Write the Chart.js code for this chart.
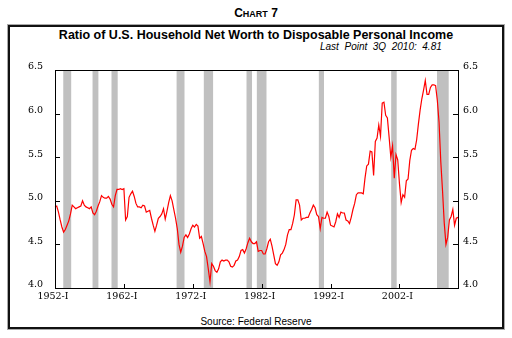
<!DOCTYPE html>
<html>
<head>
<meta charset="utf-8">
<script src="https://cdn.jsdelivr.net/npm/chart.js@4/dist/chart.umd.min.js"></script>
<style>
  html, body { margin: 0; padding: 0; background: #fff; }
  #wrap { position: relative; width: 512px; height: 338px; overflow: hidden; }
  #frame { position: absolute; left: 8px; top: 25px; width: 496px; height: 304px; box-sizing: border-box;
           border: 2px solid #111; box-shadow: 0 0 0 1px #aaa; }
  #charthead { position: absolute; left: 0; width: 512px; top: 6px; text-align: center;
               font-family: "Liberation Sans", Arial, sans-serif; font-weight: bold; font-size: 12px; color: #000; }
  #charthead .sc { font-size: 9px; }
  #title { position: absolute; left: 0; width: 512px; top: 28px; text-align: center;
           font-family: "Liberation Sans", Arial, sans-serif; font-weight: bold; font-size: 12.5px; color: #000; }
  #last { position: absolute; left: 320px; top: 41px; white-space: pre;
          font-family: "Liberation Sans", Arial, sans-serif; font-style: italic; font-size: 10px; color: #000; }
  #source { position: absolute; left: 0; width: 512px; top: 316px; text-align: center;
            font-family: "Liberation Sans", Arial, sans-serif; font-size: 10px; color: #000; }
  #cv { position: absolute; left: 0; top: 0; }
</style>
</head>
<body>
<div id="wrap">
  <div id="frame"></div>
  <div id="charthead">C<span class="sc">HART</span> 7</div>
  <div id="title">Ratio of U.S. Household Net Worth to Disposable Personal Income</div>
  <div id="last">Last  Point  3Q  2010:  4.81</div>
  <div id="source">Source: Federal Reserve</div>
  <canvas id="cv" width="512" height="338"></canvas>
</div>
<script>
// ---- Data (quarterly, 1952-Q1 .. 2010-Q3) ----
const startYear = 1952;
const ratio = [
  // 1952
  4.93, 4.94, 4.87, 4.78,
  // 1953
  4.70, 4.64, 4.67, 4.72,
  // 1954
  4.77, 4.85, 4.95, 4.93,
  // 1955
  4.91, 4.92, 4.93, 4.94,
  // 1956
  5.00, 4.95, 4.93, 4.92,
  // 1957
  4.91, 4.93, 4.86, 4.84,
  // 1958
  4.88, 4.94, 4.99, 5.06,
  // 1959
  5.04, 5.03, 5.03, 5.05,
  // 1960
  5.02, 4.96, 4.93, 5.06,
  // 1961
  5.13, 5.13, 5.14, 5.13,
  // 1962
  5.14, 4.78, 4.82, 5.04,
  // 1963
  5.08, 5.11, 5.05, 4.97,
  // 1964
  4.93, 4.93, 4.92, 4.95,
  // 1965
  4.94, 4.87, 4.88, 4.89,
  // 1966
  4.80, 4.72, 4.65, 4.72,
  // 1967
  4.80, 4.82, 4.85, 4.91,
  // 1968
  4.79, 4.88, 4.98, 5.06,
  // 1969
  5.00, 4.90, 4.80, 4.68,
  // 1970
  4.50, 4.41, 4.48, 4.58,
  // 1971
  4.61, 4.58, 4.62, 4.68,
  // 1972
  4.72, 4.70, 4.73, 4.71,
  // 1973
  4.57, 4.59, 4.51, 4.42,
  // 1974
  4.36, 4.22, 4.07, 4.28,
  // 1975
  4.25, 4.20, 4.18, 4.22,
  // 1976
  4.30, 4.32, 4.31, 4.32,
  // 1977
  4.32, 4.30, 4.25, 4.24,
  // 1978
  4.26, 4.31, 4.32, 4.36,
  // 1979
  4.43, 4.44, 4.40, 4.45,
  // 1980
  4.52, 4.57, 4.53, 4.51,
  // 1981
  4.51, 4.53, 4.42, 4.43,
  // 1982
  4.43, 4.39, 4.39, 4.45,
  // 1983
  4.53, 4.56, 4.48, 4.38,
  // 1984
  4.28, 4.26, 4.30, 4.38,
  // 1985
  4.40, 4.44, 4.50, 4.61,
  // 1986
  4.67, 4.67, 4.74, 4.84,
  // 1987
  5.01, 5.01, 4.95, 4.78,
  // 1988
  4.80, 4.80, 4.81, 4.81,
  // 1989
  4.86, 4.90, 4.95, 4.92,
  // 1990
  4.84, 4.82, 4.68, 4.81,
  // 1991
  4.80, 4.80, 4.87, 4.82,
  // 1992
  4.72, 4.71, 4.70, 4.76,
  // 1993
  4.85, 4.81, 4.87, 4.86,
  // 1994
  4.86, 4.78, 4.77, 4.74,
  // 1995
  4.81, 4.90, 4.97, 5.07,
  // 1996
  5.09, 5.09, 5.09, 5.08,
  // 1997
  5.26, 5.40, 5.42, 5.57,
  // 1998
  5.56, 5.29, 5.68, 5.72,
  // 1999
  5.87, 5.74, 6.12, 6.13,
  // 2000
  5.98, 5.95, 5.73, 5.50,
  // 2001
  5.63, 5.26, 5.53, 5.47,
  // 2002
  5.20, 4.98, 5.07, 5.04,
  // 2003
  5.23, 5.25, 5.46, 5.58,
  // 2004
  5.60, 5.59, 5.70, 5.88,
  // 2005
  6.04, 6.17, 6.27, 6.38,
  // 2006
  6.22, 6.22, 6.30, 6.33,
  // 2007
  6.33, 6.32, 6.15, 5.90,
  // 2008
  5.45, 5.12, 4.75, 4.50,
  // 2009
  4.58, 4.78, 4.82, 4.90,
  // 2010
  4.72, 4.80, 4.81
];
const quarterNames = ["I", "II", "III", "IV"];
const labels = ratio.map((v, i) => (startYear + Math.floor(i / 4)) + "-" + quarterNames[i % 4]);
const xTickYears = [1952, 1962, 1972, 1982, 1992, 2002];
const yTicks = [4.0, 4.5, 5.0, 5.5, 6.0, 6.5];
// recession bands (fractional years)
const recessions = [
  [1953.2, 1954.35], [1957.45, 1958.3], [1960.2, 1961.1], [1969.65, 1970.8],
  [1973.6, 1974.95], [1979.8, 1980.6], [1981.3, 1982.7], [1990.3, 1991.05],
  [2000.8, 2001.6], [2007.45, 2009.15]
];

const tickFont = { family: "'DejaVu Serif', serif", size: 9.5 };

const decor = {
  id: 'decor',
  beforeDatasetsDraw(chart) {
    const { ctx, chartArea: a } = chart;
    const xs = chart.scales.x;
    ctx.save();
    ctx.fillStyle = '#c0c0c0';
    recessions.forEach(([s, e]) => {
      const x1 = xs.getPixelForValue((s - startYear) * 4);
      const x2 = xs.getPixelForValue((e - startYear) * 4);
      ctx.fillRect(x1, a.top, x2 - x1, a.bottom - a.top);
    });
    ctx.restore();
  },
  afterDatasetsDraw(chart) {
    const { ctx, chartArea: a } = chart;
    const xs = chart.scales.x, ys = chart.scales.y;
    ctx.save();
    ctx.strokeStyle = '#000';
    ctx.lineWidth = 1;
    ctx.strokeRect(Math.round(a.left) + 0.5, Math.round(a.top) + 0.5,
                   Math.round(a.right - a.left), Math.round(a.bottom - a.top));
    ctx.beginPath();
    xTickYears.forEach(yr => {
      const x = Math.round(xs.getPixelForValue((yr - startYear) * 4)) + 0.5;
      ctx.moveTo(x, a.bottom);
      ctx.lineTo(x, a.bottom - 4);
    });
    yTicks.forEach(v => {
      const y = Math.round(ys.getPixelForValue(v)) + 0.5;
      ctx.moveTo(a.left, y); ctx.lineTo(a.left + 5, y);
      ctx.moveTo(a.right, y); ctx.lineTo(a.right - 5, y);
    });
    ctx.stroke();
    ctx.restore();
  }
};

new Chart(document.getElementById('cv'), {
  type: 'line',
  data: {
    labels: labels,
    datasets: [{
      data: ratio,
      borderColor: '#ff0000',
      borderWidth: 1.2,
      pointRadius: 0,
      tension: 0,
      fill: false
    }]
  },
  options: {
    responsive: false,
    animation: false,
    devicePixelRatio: 1,
    layout: { padding: { top: 70, left: 0, right: 0, bottom: 0 } },
    plugins: { legend: { display: false }, tooltip: { enabled: false }, title: { display: false } },
    scales: {
      x: {
        type: 'category',
        offset: false,
        grid: { display: false, drawTicks: false },
        border: { display: false },
        afterFit(s) { s.height = 50; },
        ticks: {
          autoSkip: false, maxRotation: 0, minRotation: 0,
          padding: 3, labelOffset: -2,
          color: '#000', font: tickFont,
          callback(val, idx) {
            const lab = labels[idx];
            const yr = startYear + Math.floor(idx / 4);
            return (idx % 4 === 0 && xTickYears.includes(yr)) ? lab : '';
          }
        }
      },
      y: {
        position: 'left',
        min: 4.0, max: 6.5,
        grid: { display: false, drawTicks: false },
        border: { display: false },
        afterFit(s) { s.width = 55; },
        ticks: { stepSize: 0.5, padding: 12, labelOffset: -3, color: '#000', font: tickFont,
                 callback: v => Number(v).toFixed(1) }
      },
      y2: {
        position: 'right',
        min: 4.0, max: 6.5,
        grid: { display: false, drawTicks: false },
        border: { display: false },
        afterFit(s) { s.width = 54; },
        ticks: { stepSize: 0.5, padding: 5, labelOffset: -3, color: '#000', font: tickFont,
                 callback: v => Number(v).toFixed(1) }
      }
    }
  },
  plugins: [decor]
});
</script>
</body>
</html>
